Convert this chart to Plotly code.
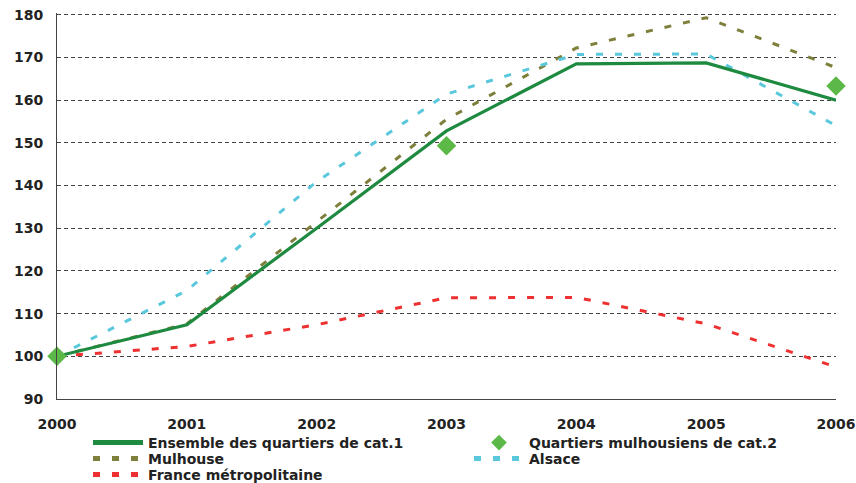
import plotly.graph_objects as go

years = [2000, 2001, 2002, 2003, 2004, 2005, 2006]
ensemble = [100, 107.4, 130.0, 152.8, 168.5, 168.7, 160.0]
mulhouse = [100, 107.6, 131.5, 155.5, 172.2, 179.3, 167.6]
alsace = [100, 115.4, 140.9, 161.4, 170.7, 170.8, 154.0]
france = [100, 102.3, 107.4, 113.7, 113.8, 107.6, 97.5]
cat2_years = [2000, 2003, 2006]
cat2 = [100, 149.3, 163.3]

FONT = "DejaVu Sans, Liberation Sans, Arial"
DASH = "7px,12px"

fig = go.Figure()
fig.add_trace(go.Scatter(x=years, y=mulhouse, mode="lines", name="Mulhouse", legend="legend2",
                         legendrank=1, line=dict(color="#7f7f3c", width=3, dash=DASH)))
fig.add_trace(go.Scatter(x=years, y=alsace, mode="lines", name="Alsace", legend="legend2",
                         legendrank=2, line=dict(color="#5ac8dc", width=3, dash=DASH)))
fig.add_trace(go.Scatter(x=years, y=france, mode="lines", name="France métropolitaine",
                         legend="legend3", line=dict(color="#ee3030", width=3, dash=DASH)))
fig.add_trace(go.Scatter(x=years, y=ensemble, mode="lines", name="Ensemble des quartiers de cat.1",
                         legend="legend", legendrank=1, line=dict(color="#1d8a3f", width=3.2)))
fig.add_trace(go.Scatter(x=cat2_years, y=cat2, mode="markers", name="Quartiers mulhousiens de cat.2",
                         legend="legend", legendrank=2,
                         marker=dict(symbol="diamond", color="#5cb947", size=15),
                         cliponaxis=False))

W, H = 856, 483
tf = dict(size=14, family=FONT, weight="bold", color="#222")
lf = dict(size=14, family=FONT, weight="bold", color="#222")


def leg(row_y):
    return dict(orientation="h", xref="container", yref="container",
                x=88 / W, y=1 - row_y / H, xanchor="left", yanchor="middle",
                traceorder="normal", entrywidth=316, itemwidth=50, tracegroupgap=0,
                itemsizing="constant", font=lf, bgcolor="rgba(0,0,0,0)")


fig.update_layout(
    width=W, height=H,
    margin=dict(l=57, r=20, t=13, b=84, autoexpand=False),
    paper_bgcolor="white", plot_bgcolor="white",
    font=dict(family=FONT, color="#222", size=14),
    xaxis=dict(range=[2000, 2006], tickvals=years, showgrid=False, zeroline=False,
               showline=True, linecolor="#444", linewidth=1, ticks="", automargin=False,
               tickfont=tf, ticklabelstandoff=12, ticklabeloverflow="allow", fixedrange=True),
    yaxis=dict(range=[90, 180.4], dtick=10, tick0=90, showgrid=True, gridcolor="#444",
               griddash="4px,3px", gridwidth=1, zeroline=False, automargin=False,
               showline=True, linecolor="#444", linewidth=1, ticks="",
               tickfont=tf, ticklabelstandoff=10, ticklabeloverflow="allow", fixedrange=True),
    legend=leg(443),
    legend2=leg(459),
    legend3=leg(475),
    showlegend=True,
)
fig.write_html("out.html", config={"displayModeBar": False, "staticPlot": False},
               post_script="document.body.style.margin='0';document.body.style.overflow='hidden';")
